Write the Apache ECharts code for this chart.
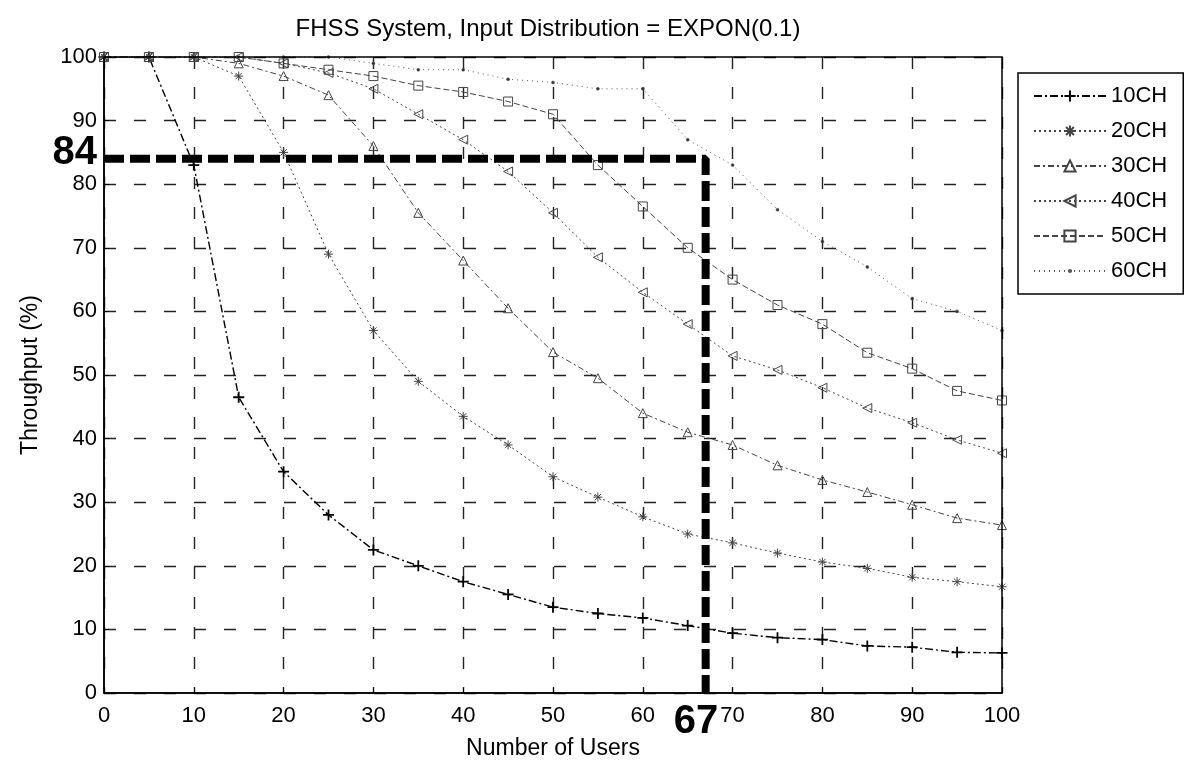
<!DOCTYPE html>
<html>
<head>
<meta charset="utf-8">
<script src="https://cdn.jsdelivr.net/npm/echarts@6/dist/echarts.min.js"></script>
<style>
html,body{margin:0;padding:0;background:#fff;}
#chart{width:1186px;height:760px;}
</style>
</head>
<body>
<div id="chart"></div>
<script>
// ---- data ----
const users = [0,5,10,15,20,25,30,35,40,45,50,55,60,65,70,75,80,85,90,95,100];
const ch10 = [100,100,83,46.5,34.8,28,22.5,20,17.5,15.5,13.5,12.5,11.8,10.6,9.4,8.7,8.4,7.4,7.2,6.4,6.3];
const ch20 = [100,100,100,97,85,69,57,49,43.5,39,34,30.8,27.7,25,23.6,22,20.6,19.6,18.2,17.5,16.7];
const ch30 = [100,100,100,99,97,94,86,75.5,68,60.5,53.6,49.5,44,41,39,35.8,33.5,31.6,29.6,27.5,26.4];
const ch40 = [100,100,100,100,99,97.5,95,91,87,82,75.5,68.5,63,58,53,50.8,48,44.8,42.5,39.8,37.7];
const ch50 = [100,100,100,100,99,98,97,95.5,94.5,93,91,83,76.5,70,65,61,58,53.5,51,47.5,46];
const ch60 = [100,100,100,100,100,100,99,98,98,96.5,96,95,95,87,83,76,71,67,62,60,57];
const seriesNames = ['10CH','20CH','30CH','40CH','50CH','60CH'];
const annotX = 67;
const annotY = 84;
const titleText = 'FHSS System, Input Distribution = EXPON(0.1)';
const xTitle = 'Number of Users';
const yTitle = 'Throughput (%)';

// ---- chart ----
const chart = echarts.init(document.getElementById('chart'), null, {renderer:'canvas'});
const FONT = 'Liberation Sans, Arial, sans-serif';
const allData = [ch10, ch20, ch30, ch40, ch50, ch60];
const pair = arr => users.map((u,i)=>[u, arr[i]]);

const plusSym = 'path://M5 0 L5 10 M0 5 L10 5';
const starSym = 'path://M5 0 L5 10 M0 5 L10 5 M1.5 1.5 L8.5 8.5 M8.5 1.5 L1.5 8.5';
const leftTri = 'path://M0 5 L10 0 L10 10 Z';
const dotSym = 'path://M0 0 M10 10 M4 5 A1 1 0 1 0 6 5 A1 1 0 1 0 4 5 Z';
const styles = [
  {sym: plusSym, size: 11, line: [8,3,2,3], lw: 1.4, lc: '#000', bw: 1.8},
  {sym: starSym, size: 9, line: [2,3], lw: 1, lc: '#444', bw: 1},
  {sym: 'triangle', size: 9, line: [6,3,2,3], lw: 1, lc: '#444', bw: 1},
  {sym: leftTri, size: 9, line: [2,3], lw: 1, lc: '#444', bw: 1},
  {sym: 'rect', size: 9, line: [6,3], lw: 1, lc: '#444', bw: 1},
  {sym: dotSym, size: 15, line: [1,4], lw: 1, lc: '#555', bw: 0.5}
];

const series = allData.map((arr, k) => ({
  name: seriesNames[k],
  type: 'line',
  data: pair(arr),
  symbol: styles[k].sym,
  symbolSize: styles[k].size,
  showAllSymbol: true,
  lineStyle: {color: styles[k].lc, width: styles[k].lw, type: styles[k].line},
  itemStyle: {color: k === 5 ? '#333' : 'rgba(0,0,0,0)', borderColor: styles[k].lc, borderWidth: styles[k].bw},
  z: 3,
  animation: false
}));

series.push({
  name: 'annot',
  type: 'line',
  data: [[0, annotY], [annotX, annotY], [annotX, 0]],
  symbol: 'none',
  lineStyle: {color: '#000', width: 8, type: [20, 6]},
  z: 5,
  animation: false
});

const option = {
  animation: false,
  backgroundColor: '#fff',
  grid: {left: 104, right: 184, top: 57, bottom: 67, containLabel: false, outerBoundsMode: 'none'},
  xAxis: {
    type: 'value', min: 0, max: 100, interval: 10,
    axisLine: {show: true, lineStyle: {color: '#000', width: 1.5}},
    axisTick: {show: true, inside: true, length: 5, lineStyle: {color: '#000'}},
    axisLabel: {fontSize: 22, color: '#000', fontFamily: FONT, margin: 12},
    splitLine: {show: true, lineStyle: {color: '#222', width: 1.4, type: [12, 18]}},
    name: xTitle, nameLocation: 'middle', nameGap: 44,
    nameTextStyle: {fontSize: 23, color: '#000', fontFamily: FONT}
  },
  yAxis: {
    type: 'value', min: 0, max: 100, interval: 10,
    axisLine: {show: true, lineStyle: {color: '#000', width: 1.5}},
    axisTick: {show: true, inside: true, length: 5, lineStyle: {color: '#000'}},
    axisLabel: {fontSize: 22, color: '#000', fontFamily: FONT, margin: 7},
    splitLine: {show: true, lineStyle: {color: '#222', width: 1.4, type: [12, 18]}},
    name: yTitle, nameLocation: 'middle', nameGap: 62, nameRotate: 90,
    nameTextStyle: {fontSize: 23, color: '#000', fontFamily: FONT}
  },
  legend: {
    data: seriesNames,
    orient: 'vertical',
    left: 1018, top: 73,
    itemWidth: 72, itemHeight: 14, itemGap: 13,
    padding: [12, 16, 12, 15],
    borderColor: '#000', borderWidth: 1.5,
    textStyle: {fontSize: 22, color: '#000', fontFamily: FONT, lineHeight: 21},
    backgroundColor: '#fff'
  },
  graphic: [
    {type: 'rect', shape: {x: 104, y: 57, width: 898, height: 636}, style: {fill: 'none', stroke: '#000', lineWidth: 1.5}, z: 10, silent: true},
    {type: 'text', x: 548, y: 29, style: {text: titleText, fontSize: 24, fontFamily: FONT, fill: '#000', textAlign: 'center', textVerticalAlign: 'middle'}},
    {type: 'text', x: 97, y: 153, style: {text: String(annotY), fontSize: 40, fontWeight: 'bold', fontFamily: FONT, fill: '#000', textAlign: 'right', textVerticalAlign: 'middle'}},
    {type: 'text', x: 696, y: 722, style: {text: String(annotX), fontSize: 40, fontWeight: 'bold', fontFamily: FONT, fill: '#000', textAlign: 'center', textVerticalAlign: 'middle', backgroundColor: '#fff'}, z: 20}
  ],
  series: series
};
chart.setOption(option);
</script>
</body>
</html>
